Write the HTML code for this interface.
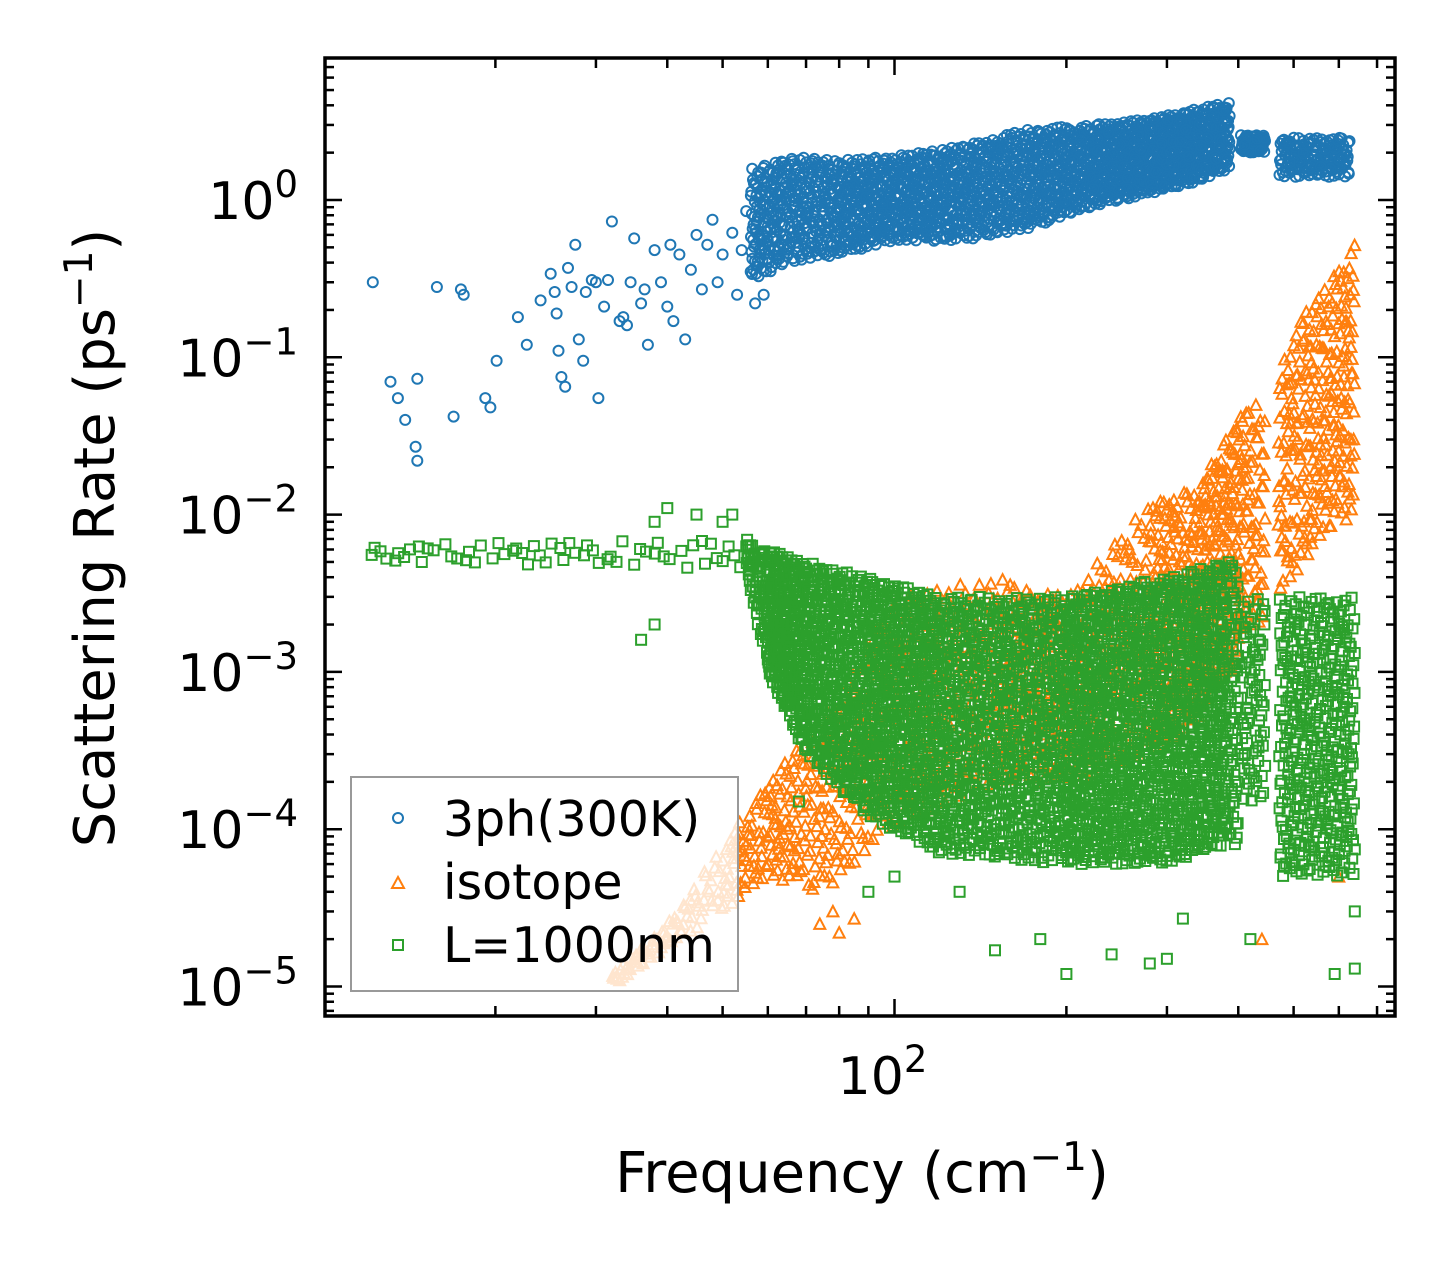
<!DOCTYPE html>
<html><head><meta charset="utf-8"><style>
body{margin:0;background:#fff;}
svg{display:block;font-family:"DejaVu Sans","Liberation Sans",sans-serif;}
</style></head><body>
<svg id="chart" width="1455" height="1265" viewBox="0 0 1455 1265" xmlns="http://www.w3.org/2000/svg">
<rect width="1455" height="1265" fill="#fff"/>
<g id="marks"></g>
<g id="axes"></g>
<text x="862" y="1192" font-size="56" text-anchor="middle">Frequency (cm<tspan dy="-22" font-size="39">−1</tspan><tspan dy="22">)</tspan></text>
<text transform="translate(114,538) rotate(-90)" font-size="56" text-anchor="middle">Scattering Rate (ps<tspan dy="-22" font-size="39">−1</tspan><tspan dy="22">)</tspan></text>
<g>
<rect x="351" y="777" width="387" height="214" fill="#fff" fill-opacity="0.8" stroke="#999" stroke-width="2"/>
<g><circle cx="398" cy="818" r="5" fill="none" stroke="#1f77b4" stroke-width="2"/><text x="443" y="836" font-size="49">3ph(300K)</text></g>
<g><path d="M392,888 L398,877 L404,888 Z" fill="none" stroke="#ff7f0e" stroke-width="2"/><text x="443" y="899" font-size="49">isotope</text></g>
<g><rect x="393" y="940" width="10" height="10" fill="none" stroke="#2ca02c" stroke-width="2"/><text x="443" y="962" font-size="49">L=1000nm</text></g>
</g>
</svg>
<script>
// ---- data ----
const blueSparseF = [12.2,13.1,13.5,13.9,14.5,14.6,14.6,15.8,16.9,17.4,17.6,19.2,19.6,20.1,21.9,22.7,24.0,25.0,25.4,25.6,25.8,26.1,26.5,26.8,27.2,27.6,28.0,28.5,28.8,29.5,30.0,30.3,31.0,31.5,32.0,33,33.5,34,34.5,35,36,36.5,37,38,39,40,40.5,41,42,43,44,45,46,47,48,49,50,52,53,54,55,56,57,58,59,60];
const blueSparseR = [0.30,0.07,0.055,0.04,0.027,0.022,0.073,0.28,0.042,0.27,0.25,0.055,0.048,0.095,0.18,0.12,0.23,0.34,0.26,0.19,0.11,0.075,0.065,0.37,0.28,0.52,0.13,0.095,0.26,0.31,0.3,0.055,0.21,0.31,0.73,0.17,0.18,0.16,0.3,0.57,0.22,0.27,0.12,0.48,0.3,0.21,0.52,0.17,0.45,0.13,0.36,0.6,0.27,0.52,0.75,0.3,0.45,0.62,0.25,0.48,0.85,0.35,0.22,0.6,0.25,0.55];
const blueBandF  = [56,65,80,100,130,170,220,280,340,387,404,446,472,627];
const blueBandLo = [0.3,0.4,0.45,0.55,0.55,0.65,0.9,1.1,1.3,1.6,2.0,2.0,1.4,1.4];
const blueBandHi = [1.6,1.9,1.8,1.9,2.2,2.8,3.0,3.3,3.8,4.2,2.6,2.6,2.5,2.5];
const blueBandN  = [150,200,250,300,300,300,300,250,150,0,60,0,150];

const orangeBandF  = [32,40,50,60,75,100,150,200,280,340,380,400,410,446,470,520,580,640];
const orangeBandLo = [1e-5,1.8e-5,3e-5,5e-5,4e-5,1e-4,2e-4,2e-4,3e-4,5e-4,1e-3,1e-3,2e-3,2e-3,3e-3,5e-3,8e-3,1e-2];
const orangeBandHi = [1.2e-5,2.5e-5,8e-5,2e-4,5e-4,3e-3,4e-3,3e-3,1.2e-2,1.5e-2,3e-2,4e-2,5e-2,5e-2,0.08,0.2,0.3,0.6];
const orangeBandN  = [40,40,60,100,150,200,200,200,200,150,60,30,60,0,80,100,100];
const orangeSparseF = [80,74,440,630,600,78,85];
const orangeSparseR = [2.2e-5,2.5e-5,2e-5,3e-2,5e-5,3e-5,2.7e-5];

const greenBandF  = [12,55,60,70,90,120,200,300,380,400,404,446,472,640];
const greenBandLo = [5e-3,4.5e-3,1e-3,3e-4,1.2e-4,7e-5,6e-5,6e-5,8e-5,8e-5,1.5e-4,1.5e-4,5e-5,5e-5];
const greenBandHi = [6.5e-3,7e-3,6e-3,5e-3,4e-3,3e-3,3e-3,4e-3,5e-3,5e-3,3e-3,3e-3,3e-3,3e-3];
const greenBandN  = [60,60,300,450,600,800,800,500,80,0,80,0,400];
const greenSparseF = [60,68,90,100,130,150,180,200,240,280,300,320,420,590,640,640,45,40,38,50,52,38,36];
const greenSparseR = [1.2e-3,1.5e-4,4e-5,5e-5,4e-5,1.7e-5,2e-5,1.2e-5,1.6e-5,1.4e-5,1.5e-5,2.7e-5,2e-5,1.2e-5,1.3e-5,3e-5,1e-2,1.1e-2,9e-3,9e-3,1e-2,2e-3,1.6e-3];

const yTickExps = [0,-1,-2,-3,-4,-5];

// ---- scales ----
const X0=325,X1=1395,Y0=58,Y1=1016;
const xs = f => 894.5 + (Math.log10(f)-2)*571;
const ys = r => 200 - Math.log10(r)*157.3;
const NS="http://www.w3.org/2000/svg";
const marks=document.getElementById('marks'), axes=document.getElementById('axes');
function halton(i,b){let f=1,r=0;while(i>0){f/=b;r+=f*(i%b);i=Math.floor(i/b);}return r;}

function marker(kind,f,r,color,name){
  const x=xs(f),y=ys(r);
  if(x<X0||x>X1||y<Y0||y>Y1) return;
  let el;
  if(kind==='c'){el=document.createElementNS(NS,'circle');el.setAttribute('cx',x.toFixed(1));el.setAttribute('cy',y.toFixed(1));el.setAttribute('r',5);}
  else if(kind==='s'){el=document.createElementNS(NS,'rect');el.setAttribute('x',(x-5).toFixed(1));el.setAttribute('y',(y-5).toFixed(1));el.setAttribute('width',10);el.setAttribute('height',10);}
  else {el=document.createElementNS(NS,'path');el.setAttribute('d',`M${(x-5.5).toFixed(1)},${(y+5).toFixed(1)}L${x.toFixed(1)},${(y-5.5).toFixed(1)}L${(x+5.5).toFixed(1)},${(y+5).toFixed(1)}Z`);}
  el.setAttribute('fill','none');el.setAttribute('stroke',color);el.setAttribute('stroke-width','2');
  
  
  marks.appendChild(el);
}
function band(F,Lo,Hi,N,kind,color,name,off){
  let c=off;
  for(let k=0;k<F.length-1;k++){
    const a=Math.log10(F[k]),b=Math.log10(F[k+1]);
    for(let j=0;j<N[k];j++){
      c++;
      const u=halton(c,2),v=halton(c,3);
      const lf=a+(b-a)*u;
      const lo=Math.log10(Lo[k])+(Math.log10(Lo[k+1])-Math.log10(Lo[k]))*u;
      const hi=Math.log10(Hi[k])+(Math.log10(Hi[k+1])-Math.log10(Hi[k]))*u;
      marker(kind,Math.pow(10,lf),Math.pow(10,lo+(hi-lo)*v),color,name);
    }
  }
}
blueSparseF.forEach((f,i)=>marker('c',f,blueSparseR[i],'#1f77b4','point-3ph'));
band(blueBandF,blueBandLo,blueBandHi,blueBandN,'c','#1f77b4','point-3ph',1);
band(orangeBandF,orangeBandLo,orangeBandHi,orangeBandN,'t','#ff7f0e','point-isotope',7);
orangeSparseF.forEach((f,i)=>marker('t',f,orangeSparseR[i],'#ff7f0e','point-isotope'));
band(greenBandF,greenBandLo,greenBandHi,greenBandN,'s','#2ca02c','point-l1000nm',13);
greenSparseF.forEach((f,i)=>marker('s',f,greenSparseR[i],'#2ca02c','point-l1000nm'));

// ---- axes ----
function line(x1,y1,x2,y2,w,name){
  const l=document.createElementNS(NS,'line');
  l.setAttribute('x1',x1);l.setAttribute('y1',y1);l.setAttribute('x2',x2);l.setAttribute('y2',y2);
  l.setAttribute('stroke','#000');l.setAttribute('stroke-width',w);
  
  
  axes.appendChild(l);
}
const fr=document.createElementNS(NS,'rect');
fr.setAttribute('x',X0);fr.setAttribute('y',Y0);fr.setAttribute('width',X1-X0);fr.setAttribute('height',Y1-Y0);
fr.setAttribute('fill','none');fr.setAttribute('stroke','#000');fr.setAttribute('stroke-width','3.5');


axes.appendChild(fr);
// x ticks
for(let d=1;d<=3;d++){for(let m=1;m<10;m++){
  const f=m*Math.pow(10,d),x=xs(f); if(x<X0+2||x>X1-2) continue;
  const L=(m===1)?17:10;
  line(x,Y1,x,Y1-L,2.5,'x-tick');line(x,Y0,x,Y0+L,2.5,'x-tick');
}}
const xl=document.createElementNS(NS,'text');
xl.setAttribute('x',xs(100)-12);xl.setAttribute('y',1094);xl.setAttribute('font-size','52');xl.setAttribute('text-anchor','middle');
xl.innerHTML='10<tspan dy="-22" font-size="37">2</tspan>';


axes.appendChild(xl);
// y ticks
for(let e=-6;e<=1;e++){for(let m=1;m<10;m++){
  const y=ys(m*Math.pow(10,e)); if(y<Y0+2||y>Y1-2) continue;
  const L=(m===1)?17:9;
  line(X0,y,X0+L,y,2.5,'y-tick');line(X1,y,X1-L,y,2.5,'y-tick');
}}
yTickExps.forEach(e=>{
  const t=document.createElementNS(NS,'text');
  t.setAttribute('x',298);t.setAttribute('y',ys(Math.pow(10,e))+19);t.setAttribute('font-size','52');t.setAttribute('text-anchor','end');
  t.innerHTML='10<tspan dy="-22" font-size="37">'+(e<0?'−'+(-e):e)+'</tspan>';
  
  
  axes.appendChild(t);
});
</script>
</body></html>
